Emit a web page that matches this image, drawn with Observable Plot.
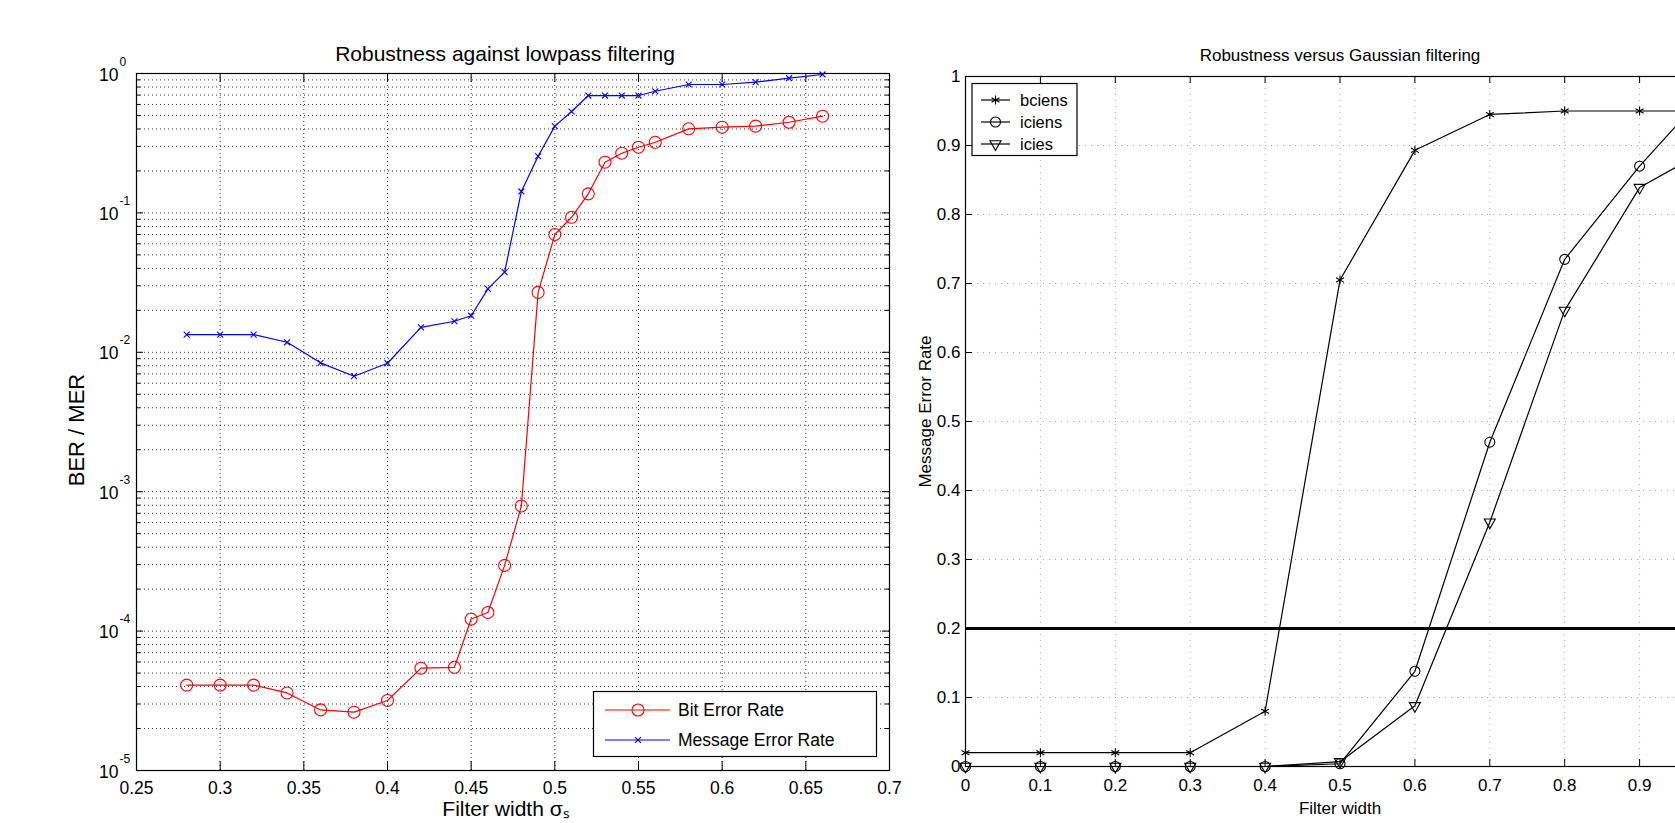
<!DOCTYPE html>
<html><head><meta charset="utf-8">
<script src="https://cdn.jsdelivr.net/npm/d3@7"></script>
<script src="https://cdn.jsdelivr.net/npm/@observablehq/plot@0.6"></script>
<style>
html,body{margin:0;padding:0;background:#fff;}
#wrap{position:relative;width:1675px;height:823px;overflow:hidden;background:#fff;font-family:"Liberation Sans",Arial,Helvetica,sans-serif;}
#wrap > svg{position:absolute;top:0;}
</style></head><body><div id="wrap"></div>
<script>
// ---------- Left panel data (lowpass filtering) ----------
const lpFilterWidth = [0.28,0.30,0.32,0.34,0.36,0.38,0.40,0.42,0.44,0.45,0.46,0.47,0.48,0.49,0.50,0.51,0.52,0.53,0.54,0.55,0.56,0.58,0.60,0.62,0.64,0.66];
const berValues = [4.1e-5,4.1e-5,4.1e-5,3.6e-5,2.72e-5,2.62e-5,3.18e-5,5.42e-5,5.5e-5,1.22e-4,1.36e-4,2.96e-4,7.9e-4,0.0269,0.070,0.093,0.137,0.231,0.268,0.296,0.321,0.401,0.412,0.419,0.447,0.494];
const merValues = [0.0134,0.0134,0.0134,0.0118,0.0084,0.00674,0.00835,0.0151,0.0167,0.0183,0.0285,0.0376,0.1425,0.255,0.419,0.534,0.695,0.695,0.695,0.695,0.746,0.834,0.834,0.867,0.925,0.984];
const lpXTicks = [0.25,0.3,0.35,0.4,0.45,0.5,0.55,0.6,0.65,0.7];
const lpXTickLabels = ["0.25","0.3","0.35","0.4","0.45","0.5","0.55","0.6","0.65","0.7"];
const lpYTicks = [1e-5,1e-4,1e-3,1e-2,1e-1,1];
const lpYExponents = ["-5","-4","-3","-2","-1","0"];
const lpSeriesNames = ["Bit Error Rate","Message Error Rate"];

// ---------- Right panel data (Gaussian filtering) ----------
const gaussFilterWidth = [0,0.1,0.2,0.3,0.4,0.5,0.6,0.7,0.8,0.9,1.0];
const bciens = [0.02,0.02,0.02,0.02,0.08,0.705,0.893,0.945,0.95,0.95,0.95];
const iciens = [0,0,0,0,0,0.004,0.138,0.47,0.735,0.87,0.99];
const icies  = [0,0,0,0,0,0.007,0.088,0.354,0.661,0.839,0.90];
const threshold = [0.2];
const gaussTicks = [0,0.1,0.2,0.3,0.4,0.5,0.6,0.7,0.8,0.9,1];
const gaussTickLabels = ["0","0.1","0.2","0.3","0.4","0.5","0.6","0.7","0.8","0.9","1"];
const gaussSeriesNames = ["bciens","iciens","icies"];

const FONT = '"Liberation Sans", Arial, Helvetica, sans-serif';
const wrap = document.getElementById("wrap");

// log minor grid values
const lpMinor = [];
for (let k = -5; k < 0; k++) for (let m = 1; m < 10; m++) lpMinor.push(m * Math.pow(10, k));
lpMinor.push(1);
const lpMinorOnly = lpMinor.filter(v => !lpYTicks.includes(v));

const ber = lpFilterWidth.map((x, i) => ({x, v: berValues[i]}));
const mer = lpFilterWidth.map((x, i) => ({x, v: merValues[i]}));

const LW = 900, LH = 823, LM = {top: 73, right: 11, bottom: 53, left: 136};
const LFW = LW - LM.left - LM.right, LFH = LH - LM.top - LM.bottom;
const RED = "#f00", BLUE = "#00f";

const left = Plot.plot({
  width: LW, height: LH,
  marginTop: LM.top, marginRight: LM.right, marginBottom: LM.bottom, marginLeft: LM.left,
  x: {domain: [0.25, 0.7], axis: null},
  y: {type: "log", domain: [1e-5, 1], axis: null},
  style: {fontFamily: FONT, background: "transparent", maxWidth: "none", overflow: "visible", color: "#000"},
  marks: [
    Plot.gridY(lpMinor, {stroke: "#000", strokeOpacity: 0.8, strokeDasharray: "1,3"}),
    Plot.gridX(lpXTicks.slice(1, -1), {stroke: "#000", strokeOpacity: 0.8, strokeDasharray: "1,3"}),
    Plot.tickY(lpYTicks, {y: d => d, insetRight: LFW - 7, stroke: "#000"}),
    Plot.tickY(lpYTicks, {y: d => d, insetLeft: LFW - 7, stroke: "#000"}),
    Plot.tickY(lpMinorOnly, {y: d => d, insetRight: LFW - 4, stroke: "#000"}),
    Plot.tickY(lpMinorOnly, {y: d => d, insetLeft: LFW - 4, stroke: "#000"}),
    Plot.tickX(lpXTicks, {x: d => d, insetTop: LFH - 9, stroke: "#000"}),
    Plot.tickX(lpXTicks, {x: d => d, insetBottom: LFH - 9, stroke: "#000"}),
    Plot.frame({stroke: "#000", strokeWidth: 1.2}),
    Plot.line(ber, {x: "x", y: "v", stroke: RED, strokeWidth: 1.2}),
    Plot.dot(ber, {x: "x", y: "v", symbol: "circle", r: 6, stroke: RED, fill: "none", strokeWidth: 1.1}),
    Plot.line(mer, {x: "x", y: "v", stroke: BLUE, strokeWidth: 1.2}),
    Plot.dot(mer, {x: "x", y: "v", symbol: "times", r: 2.8, stroke: BLUE, strokeWidth: 1.1}),
    // tick labels
    Plot.text(lpXTicks, {x: d => d, frameAnchor: "bottom", lineAnchor: "bottom", textAnchor: "middle", dy: 23, text: (d, i) => lpXTickLabels[i], fontSize: 17.5, fill: "#000"}),
    Plot.text(lpYTicks, {y: d => d, frameAnchor: "left", lineAnchor: "middle", textAnchor: "end", dx: -18, dy: 1.5, text: () => "10", fontSize: 17.5, fill: "#000"}),
    Plot.text(lpYTicks, {y: d => d, frameAnchor: "left", lineAnchor: "bottom", textAnchor: "start", dx: -17, dy: -8, text: (d, i) => lpYExponents[i], fontSize: 12, fill: "#000"}),
    // titles
    Plot.text(["Robustness against lowpass filtering"], {frameAnchor: "top", lineAnchor: "bottom", textAnchor: "middle", dx: -8, dy: -13, text: d => d, fontSize: 21, fill: "#000"}),
    Plot.text(["BER / MER"], {frameAnchor: "left", lineAnchor: "middle", textAnchor: "middle", rotate: -90, dx: -60, dy: 8, text: d => d, fontSize: 22, fill: "#000"}),
    Plot.text(["Filter width σₛ"], {frameAnchor: "bottom", lineAnchor: "bottom", textAnchor: "middle", dx: -7, dy: 45, text: d => d, fontSize: 21, fill: "#000"})
  ]
});
left.style.left = "0px";
wrap.appendChild(left);

// ---------- Right panel ----------
const series = [
  {name: gaussSeriesNames[0], vals: bciens, symbol: "asterisk", r: 4.3, rotate: 0},
  {name: gaussSeriesNames[1], vals: iciens, symbol: "circle", r: 5, rotate: 0},
  {name: gaussSeriesNames[2], vals: icies, symbol: "triangle", r: 4.1, rotate: 180}
];
const gaussRows = series.flatMap(s => gaussFilterWidth.map((x, i) => ({x, v: s.vals[i], name: s.name})));
// the x = 1 tick label lies beyond the visible area in the reference, so it is not drawn
const visibleXTicks = gaussTicks.filter(t => t < 1);

const RW = 870, RH = 823, RM = {top: 76, right: 56, bottom: 57, left: 65};
const RFW = RW - RM.left - RM.right, RFH = RH - RM.top - RM.bottom;
const right = Plot.plot({
  width: RW, height: RH,
  marginTop: RM.top, marginRight: RM.right, marginBottom: RM.bottom, marginLeft: RM.left,
  x: {domain: [0, 1], axis: null},
  y: {domain: [0, 1], axis: null},
  style: {fontFamily: FONT, background: "transparent", maxWidth: "none", overflow: "visible", color: "#000"},
  marks: [
    Plot.gridX(gaussTicks.slice(1, -1), {stroke: "#888", strokeOpacity: 0.75, strokeDasharray: "1,5"}),
    Plot.gridY(gaussTicks.slice(1, -1), {stroke: "#888", strokeOpacity: 0.75, strokeDasharray: "1,5"}),
    Plot.tickX(gaussTicks, {x: d => d, insetBottom: RFH - 7, stroke: "#000"}),
    Plot.tickX(gaussTicks, {x: d => d, insetTop: RFH - 7, stroke: "#000"}),
    Plot.tickY(gaussTicks, {y: d => d, insetRight: RFW - 7, stroke: "#000"}),
    Plot.frame({stroke: "#000", strokeWidth: 1.2}),
    Plot.ruleY(threshold, {stroke: "#000", strokeWidth: 3}),
    ...series.map(s => Plot.line(gaussRows.filter(d => d.name === s.name), {x: "x", y: "v", stroke: "#000", strokeWidth: 1.2})),
    ...series.map(s => Plot.dot(gaussRows.filter(d => d.name === s.name), {x: "x", y: "v", symbol: s.symbol, r: s.r, rotate: s.rotate, stroke: "#000", fill: "none", strokeWidth: 1.1})),
    Plot.text(visibleXTicks, {x: d => d, frameAnchor: "bottom", lineAnchor: "bottom", textAnchor: "middle", dy: 24, text: (d, i) => gaussTickLabels[i], fontSize: 17, fill: "#000"}),
    Plot.text(gaussTicks, {y: d => d, frameAnchor: "left", lineAnchor: "middle", textAnchor: "end", dx: -5, text: (d, i) => gaussTickLabels[i], fontSize: 17, fill: "#000"}),
    Plot.text(["Robustness versus Gaussian filtering"], {frameAnchor: "top", lineAnchor: "bottom", textAnchor: "middle", dy: -16, text: d => d, fontSize: 17, fill: "#000"}),
    Plot.text(["Message Error Rate"], {frameAnchor: "left", lineAnchor: "middle", textAnchor: "middle", rotate: -90, dx: -40, dy: -10, text: d => d, fontSize: 17, fill: "#000"}),
    Plot.text(["Filter width"], {frameAnchor: "bottom", lineAnchor: "bottom", textAnchor: "middle", dy: 47, text: d => d, fontSize: 17, fill: "#000"})
  ]
});
right.style.left = "900px";
wrap.appendChild(right);

// ---------- Legends (overlay) ----------
const overlay = d3.select(wrap).append("svg")
  .attr("width", 1675).attr("height", 823)
  .style("left", "0px").style("pointer-events", "none")
  .style("font-family", FONT);

function drawLegend(g, box, items, opts) {
  g.append("rect").attr("x", box.x).attr("y", box.y).attr("width", box.w).attr("height", box.h)
    .attr("fill", "#fff").attr("stroke", "#000").attr("stroke-width", 1.2);
  items.forEach((it, i) => {
    const y = opts.y0 + i * opts.dy;
    g.append("line").attr("x1", opts.lx1).attr("x2", opts.lx2).attr("y1", y).attr("y2", y)
      .attr("stroke", it.color).attr("stroke-width", 1.2);
    g.append("path").attr("d", d3.symbol(it.symbol, Math.PI * it.r * it.r)())
      .attr("transform", `translate(${opts.mx},${y}) rotate(${it.rotate || 0})`)
      .attr("fill", "none").attr("stroke", it.color).attr("stroke-width", 1.1);
    g.append("text").attr("x", opts.tx).attr("y", y).attr("dy", "0.35em")
      .attr("font-size", opts.fontSize).attr("fill", "#000").text(it.name);
  });
}
drawLegend(overlay.append("g"), {x: 593.5, y: 691.5, w: 283, h: 65},
  [{name: lpSeriesNames[0], color: RED, symbol: d3.symbolCircle, r: 6},
   {name: lpSeriesNames[1], color: BLUE, symbol: d3.symbolTimes, r: 2.8}],
  {y0: 710, dy: 30, lx1: 605, lx2: 670, mx: 638, tx: 678, fontSize: 17.5});
drawLegend(overlay.append("g"), {x: 972, y: 83.5, w: 105, h: 72},
  [{name: gaussSeriesNames[0], color: "#000", symbol: d3.symbolAsterisk, r: 4.3},
   {name: gaussSeriesNames[1], color: "#000", symbol: d3.symbolCircle, r: 5},
   {name: gaussSeriesNames[2], color: "#000", symbol: d3.symbolTriangle, r: 4.1, rotate: 180}],
  {y0: 100, dy: 22, lx1: 981, lx2: 1010, mx: 995.5, tx: 1020, fontSize: 16.5});
</script>
</body></html>
